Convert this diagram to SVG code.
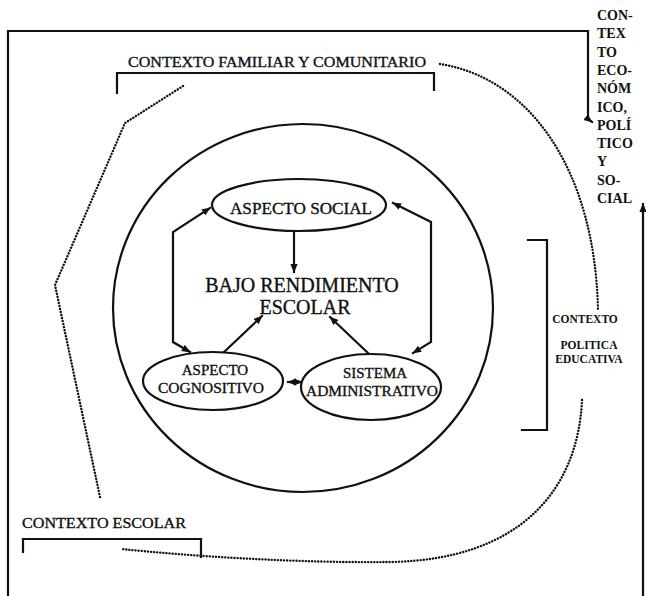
<svg xmlns="http://www.w3.org/2000/svg" width="646" height="596" viewBox="0 0 646 596">
<style>
.ln{fill:none;stroke:#111;stroke-width:2.2;stroke-linecap:square;stroke-linejoin:miter}
.dot{fill:none;stroke:#111;stroke-width:2.4;stroke-linecap:round;stroke-dasharray:0.1 3}
.ell{fill:#fff;stroke:#111;stroke-width:2.2}
.t{font-family:"Liberation Serif","Times New Roman",serif;fill:#111;stroke:#111;stroke-width:0.35}
.col{font-family:"Liberation Serif","Times New Roman",serif;font-weight:bold;font-size:14px;fill:#111}
.sm{font-family:"Liberation Serif","Times New Roman",serif;font-weight:bold;font-size:11.5px;fill:#111}
</style>
<defs>
<marker id="ah" viewBox="0 0 10 8" markerUnits="userSpaceOnUse" markerWidth="9" markerHeight="8" refX="9" refY="4" orient="auto-start-reverse">
<path d="M0,0 L10,4 L0,8 z" fill="#111"/>
</marker>
</defs>
<rect width="646" height="596" fill="#fff"/>
<g id="frame">
<path class="ln" d="M8,596 V31 H588 V119 L592,122" marker-end="url(#ah)"/>
<path class="ln" d="M643,596 V204" marker-end="url(#ah)"/>
</g>
<g id="contexto-economico">
<text class="col" x="597" y="20">CON-</text>
<text class="col" x="597" y="38">TEX</text>
<text class="col" x="597" y="57">TO</text>
<text class="col" x="597" y="75">ECO-</text>
<text class="col" x="597" y="93">NÓM</text>
<text class="col" x="597" y="112">ICO,</text>
<text class="col" x="597" y="130">POLÍ</text>
<text class="col" x="597" y="148">TICO</text>
<text class="col" x="597" y="166">Y</text>
<text class="col" x="597" y="185">SO-</text>
<text class="col" x="597" y="203">CIAL</text>
</g>
<g id="contexto-familiar">
<text class="t" x="128" y="67" font-size="15" textLength="298" lengthAdjust="spacingAndGlyphs">CONTEXTO FAMILIAR Y COMUNITARIO</text>
<path class="ln" d="M117,93 V73 H434 V90"/>
</g>
<g id="circulo">
<ellipse cx="303" cy="308" rx="190" ry="184" fill="none" stroke="#111" stroke-width="2.2"/>
</g>
<g id="politica-educativa">
<path class="ln" d="M528,240 H547 V430 H522"/>
<text class="sm" x="585" y="323" text-anchor="middle">CONTEXTO</text>
<text class="sm" x="589" y="349" text-anchor="middle">POLITICA</text>
<text class="sm" x="589" y="363" text-anchor="middle">EDUCATIVA</text>
</g>
<g id="contexto-escolar">
<text class="t" x="22" y="528" font-size="15" textLength="164" lengthAdjust="spacingAndGlyphs">CONTEXTO ESCOLAR</text>
<path class="ln" d="M23,552 V539 H201 V557"/>
</g>
<g id="connectors">
<path class="dot" d="M440,64 C530,78 595,170 598,310"/>
<path class="dot" d="M582,400 C578,490 520,560 390,562 C300,563 200,557 121,549"/>
<path class="dot" d="M183,86 L125,123 L55,285 L100,497"/>
<path class="ln" d="M190,352 L173,342 L173,232 L210,208" marker-start="url(#ah)" marker-end="url(#ah)"/>
<path class="ln" d="M393,203 L431,222 L431,342 L413,353" marker-start="url(#ah)" marker-end="url(#ah)"/>
<path class="ln" d="M294,233 V272" marker-end="url(#ah)"/>
<path class="ln" d="M223,353 L262,316" marker-end="url(#ah)"/>
<path class="ln" d="M368,353 L330,317" marker-end="url(#ah)"/>
<path class="ln" d="M288,382 H302" marker-start="url(#ah)" marker-end="url(#ah)"/>
</g>
<g id="aspecto-social">
<ellipse class="ell" cx="299" cy="205" rx="87" ry="26"/>
<text class="t" x="301" y="214" font-size="16" text-anchor="middle" textLength="142" lengthAdjust="spacingAndGlyphs">ASPECTO SOCIAL</text>
</g>
<g id="bajo-rendimiento">
<text class="t" x="302" y="292" font-size="20" text-anchor="middle">BAJO RENDIMIENTO</text>
<text class="t" x="305" y="314" font-size="20" text-anchor="middle">ESCOLAR</text>
</g>
<g id="aspecto-cognositivo">
<ellipse class="ell" cx="213" cy="381" rx="70" ry="29"/>
<text class="t" x="215" y="375" font-size="15" text-anchor="middle">ASPECTO</text>
<text class="t" x="211" y="393" font-size="15" text-anchor="middle" textLength="106" lengthAdjust="spacingAndGlyphs">COGNOSITIVO</text>
</g>
<g id="sistema-administrativo">
<ellipse class="ell" cx="371" cy="387" rx="70" ry="33"/>
<text class="t" x="375" y="378" font-size="15" text-anchor="middle">SISTEMA</text>
<text class="t" x="372" y="396" font-size="15" text-anchor="middle" textLength="132" lengthAdjust="spacingAndGlyphs">ADMINISTRATIVO</text>
</g>
</svg>
